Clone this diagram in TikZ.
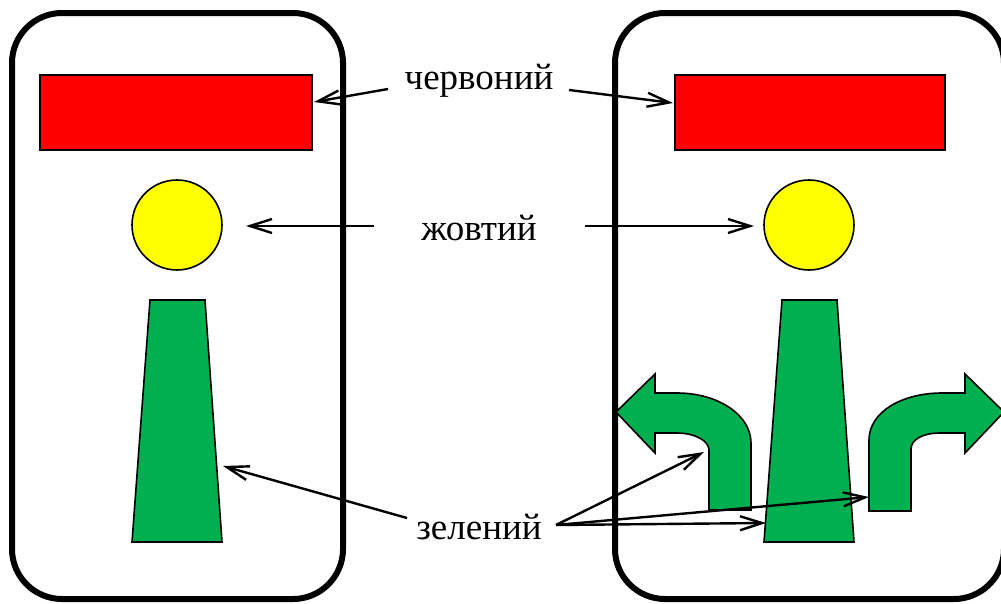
\documentclass[tikz,border=0pt]{standalone}
\usepackage{fontspec}
\setmainfont{Liberation Serif}
\usetikzlibrary{arrows.meta}
\definecolor{sigred}{HTML}{FF0000}
\definecolor{sigyellow}{HTML}{FFFF00}
\definecolor{siggreen}{HTML}{00AF50}
\begin{document}
\begin{tikzpicture}[x=1pt,y=-1pt,
  panel/.style={line width=6pt, rounded corners=50pt},
  lamp/.style={draw=black, line width=1.6pt, inner sep=0pt},
  lbl/.style={font=\fontsize{37}{44}\selectfont, anchor=base, inner sep=0pt},
  conn/.style={line width=2.4pt, -{Straight Barb[length=22pt,width=14pt,line width=2.4pt]}}]
\useasboundingbox (0,0) rectangle (1001,603);
\clip (0,0) rectangle (1001,603);
\fill[white] (0,0) rectangle (1001,603);
% panels
\draw[panel] (12,13) rectangle (343,599);
\draw[panel] (615,13) rectangle (1004,599);
% left signal
\node[lamp, fill=sigred, minimum width=272pt, minimum height=75pt] (r1) at (176,112.5) {};
\node[lamp, fill=sigyellow, circle, minimum size=90pt] (y1) at (177,225) {};
\draw[lamp, fill=siggreen] (150,300) -- (205,300) -- (222,542) -- (132,542) -- cycle;
% right signal
\node[lamp, fill=sigred, minimum width=270pt, minimum height=75pt] (r2) at (810,112.5) {};
\node[lamp, fill=sigyellow, circle, minimum size=90pt] (y2) at (809,225) {};
\draw[lamp, fill=siggreen] (782,300) -- (837,300) -- (854,542) -- (764,542) -- cycle;
% left bent arrow
\draw[lamp, fill=siggreen] (751,510) -- (751,443) .. controls (751,415) and (718,393) .. (677,393)
  -- (655,393) -- (655,374) -- (616,412) -- (655,453) -- (655,433) -- (677,433)
  .. controls (695,433) and (709,441) .. (709,450) -- (709,510) -- cycle;
% right bent arrow
\draw[lamp, fill=siggreen] (869,511) -- (869,440) .. controls (869,412) and (902,393) .. (942,393)
  -- (965,393) -- (965,374) -- (1004,412) -- (965,453) -- (965,433) -- (940,433)
  .. controls (922,433) and (911,440) .. (911,449) -- (911,511) -- cycle;
% labels
\node[lbl] (lred) at (479,89) {червоний};
\node[lbl] (lyel) at (479,240) {жовтий};
\node[lbl] (lgrn) at (479,539) {зелений};
% connector end points
\coordinate (sR1) at (388,89);
\coordinate (tR1) at (314,102);
\coordinate (sR2) at (569,90);
\coordinate (tR2) at (673,103);
\coordinate (sY1) at (374,226);
\coordinate (tY1) at (246,226);
\coordinate (sY2) at (585,226);
\coordinate (tY2) at (754,226);
\coordinate (sG1) at (407,518);
\coordinate (tG1) at (223,466);
\coordinate (sG2) at (556,525);
\coordinate (tGa) at (704,452);
\coordinate (tGb) at (766,523);
\coordinate (tGc) at (869,497);
% connectors
\draw[conn] (sR1) -- (tR1);
\draw[conn] (sR2) -- (tR2);
\draw[conn] (sY1) -- (tY1);
\draw[conn] (sY2) -- (tY2);
\draw[conn] (sG1) -- (tG1);
\draw[conn] (sG2) -- (tGa);
\draw[conn] (sG2) -- (tGb);
\draw[conn] (sG2) -- (tGc);
\end{tikzpicture}
\end{document}
